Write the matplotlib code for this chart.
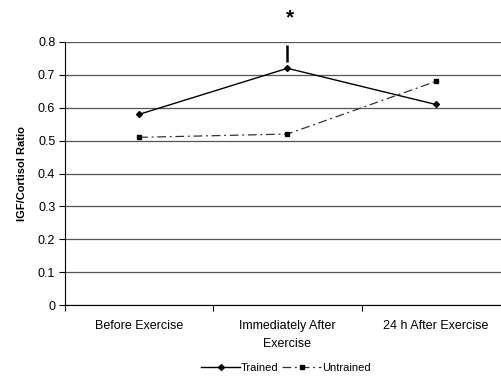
import matplotlib
matplotlib.use("Agg")
import matplotlib.pyplot as plt
import numpy as np

plt.rcParams['font.family'] = ['Liberation Sans', 'DejaVu Sans']

categories = ['Before Exercise', 'Immediately After\nExercise', '24 h After Exercise']
trained = [0.58, 0.72, 0.61]
untrained = [0.51, 0.52, 0.68]
# upper error bar on trained, immediately after (drawn as start/end)
err_idx = 1
err_lo = 0.74
err_hi = 0.79
yticks = [0, 0.1, 0.2, 0.3, 0.4, 0.5, 0.6, 0.7, 0.8]
ytick_labels = ['0', '0.1', '0.2', '0.3', '0.4', '0.5', '0.6', '0.7', '0.8']

fig = plt.figure(figsize=(5.01, 3.76), dpi=100)
ax = fig.add_axes([65/501, 1 - 305/376, (501-65)/501, (305-42)/376])

x = np.arange(len(categories))

# grid
ax.set_axisbelow(True)
ax.yaxis.grid(color='#555555', linestyle='solid', linewidth=0.9)

ax.plot(x, trained, color='black', linewidth=1.0, marker='D', markersize=3,
        label='Trained', zorder=3)
ax.plot(x, untrained, color='#333333', linewidth=0.9, linestyle=(0, (7, 3, 1.5, 3)),
        marker='s', markersize=3.5, markerfacecolor='black', markeredgecolor='black',
        label='Untrained', zorder=3)

ax.vlines(x[err_idx], err_lo, err_hi, color='black', linewidth=1.8)
ax.text(x[err_idx] + 0.02, 0.872, '*', ha='center', va='center', fontsize=15,
        fontweight='bold')

ax.set_xlim(-0.5, 2.44)
ax.set_ylim(0, 0.8)
ax.set_yticks(yticks)
ax.set_yticklabels(ytick_labels, fontsize=9)

ax.set_xticks(x)
ax.set_xticklabels(categories, fontsize=9, linespacing=1.6)
ax.tick_params(axis='x', length=0, pad=11)
ax.set_xticks([-0.5, 0.5, 1.5], minor=True)
ax.tick_params(axis='x', which='minor', length=4, direction='out', width=0.8)
ax.tick_params(axis='y', length=4, direction='out', width=0.8, pad=3)

ax.spines['right'].set_visible(False)
ax.spines['top'].set_visible(False)
ax.spines['left'].set_color('black')
ax.spines['bottom'].set_color('black')

ax.set_ylabel('IGF/Cortisol Ratio', fontsize=8, fontweight='bold', labelpad=8)

leg = fig.legend(loc='center', bbox_to_anchor=(286/501, 1 - 368/376), ncol=2,
                 frameon=False, fontsize=8, handlelength=3.5, columnspacing=0.3,
                 handletextpad=0.1)

fig.savefig('out.png', dpi=100)
